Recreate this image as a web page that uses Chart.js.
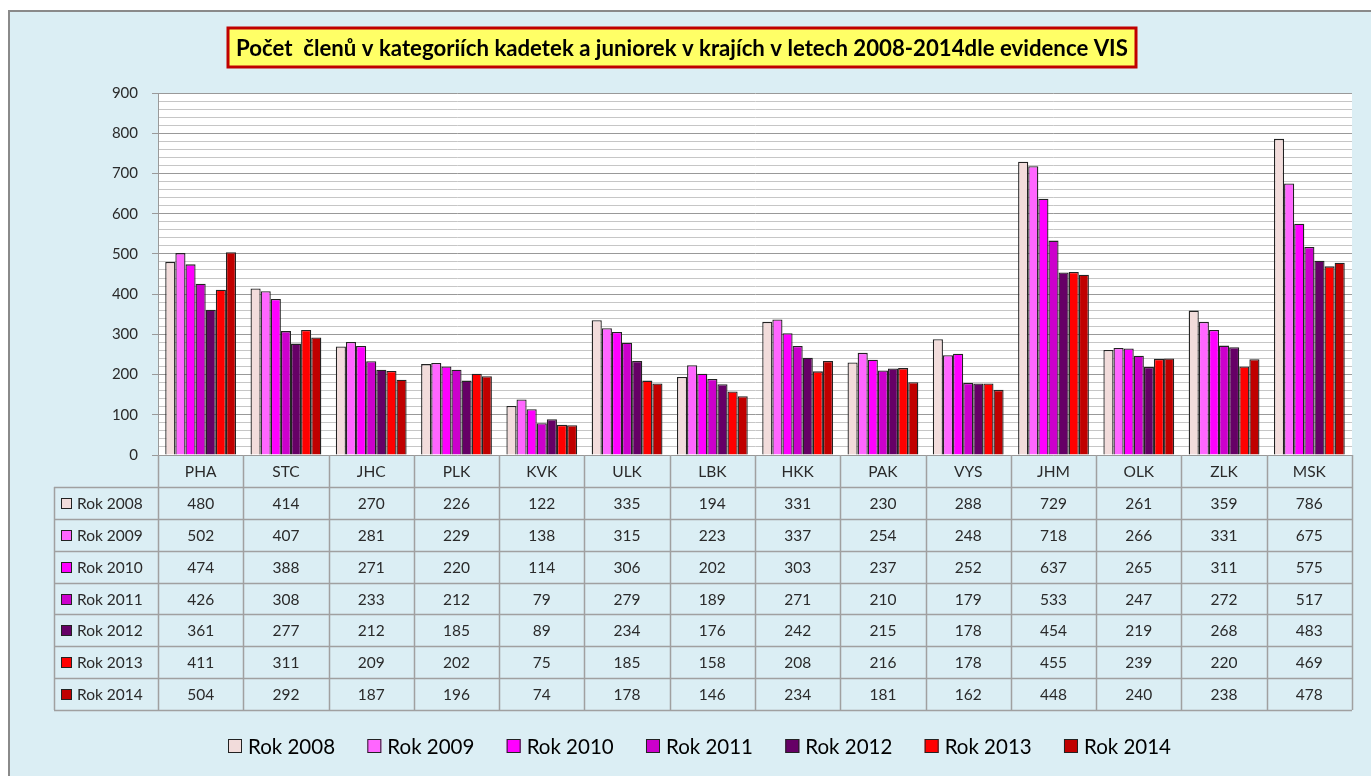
<!DOCTYPE html>
<html><head><meta charset="utf-8">
<script src="https://cdn.jsdelivr.net/npm/chart.js@4.4.0/dist/chart.umd.min.js"></script>
<style>html,body{margin:0;padding:0;background:#fff;overflow:hidden}canvas{display:block}</style>
</head><body>
<canvas id="c" width="1371" height="776"></canvas>
<script>
const titleText = 'Počet  členů v kategoriích kadetek a juniorek v krajích v letech 2008-2014dle evidence VIS';
const categories = ['PHA','STC','JHC','PLK','KVK','ULK','LBK','HKK','PAK','VYS','JHM','OLK','ZLK','MSK'];
const seriesNames = ['Rok 2008','Rok 2009','Rok 2010','Rok 2011','Rok 2012','Rok 2013','Rok 2014'];
const r2008 = [480,414,270,226,122,335,194,331,230,288,729,261,359,786];
const r2009 = [502,407,281,229,138,315,223,337,254,248,718,266,331,675];
const r2010 = [474,388,271,220,114,306,202,303,237,252,637,265,311,575];
const r2011 = [426,308,233,212,79,279,189,271,210,179,533,247,272,517];
const r2012 = [361,277,212,185,89,234,176,242,215,178,454,219,268,483];
const r2013 = [411,311,209,202,75,185,158,208,216,178,455,239,220,469];
const r2014 = [504,292,187,196,74,178,146,234,181,162,448,240,238,478];
const seriesData = [r2008,r2009,r2010,r2011,r2012,r2013,r2014];
const seriesColors = ['#f2dcdb','#ff66ff','#ff00ff','#cc00cc','#660066','#ff0000','#c00000'];
const yMin = 0, yMax = 900, yMinorStep = 20, yMajorStep = 100;

const FONT = 'Lato, "Open Sans", sans-serif';
const TEXT = '#2a2a2a';
const LINE = '#a0a0a0';

const deco = {
  id: 'deco',
  beforeDraw(chart) {
    const ctx = chart.ctx, a = chart.chartArea, W = chart.width, H = chart.height;
    ctx.save();
    ctx.fillStyle = '#ffffff'; ctx.fillRect(0, 0, W, H);
    ctx.fillStyle = '#dbeef4'; ctx.fillRect(8, 10, W - 8, H - 10);
    ctx.strokeStyle = '#8a8a8a'; ctx.lineWidth = 2;
    ctx.beginPath(); ctx.moveTo(9, H); ctx.lineTo(9, 11); ctx.lineTo(W, 11); ctx.stroke();
    ctx.fillStyle = '#ffffff'; ctx.fillRect(a.left, a.top, a.right - a.left, a.bottom - a.top);
    ctx.restore();
  },
  afterDraw(chart) {
    const ctx = chart.ctx, a = chart.chartArea;
    ctx.save();
    // Title box
    const bx = 228, by = 28, bw = 908, bh = 39;
    ctx.fillStyle = '#ffff66'; ctx.fillRect(bx, by, bw, bh);
    ctx.strokeStyle = '#c00000'; ctx.lineWidth = 3; ctx.strokeRect(bx, by, bw, bh);
    let fs = 20;
    ctx.font = 'bold ' + fs + 'px ' + FONT;
    const tw = ctx.measureText(titleText).width;
    fs = fs * 892 / tw;
    ctx.font = 'bold ' + fs.toFixed(2) + 'px ' + FONT;
    ctx.fillStyle = '#000'; ctx.textBaseline = 'middle'; ctx.textAlign = 'left';
    ctx.fillText(titleText, 236, by + bh / 2 + 1);

    // Data table
    const n = categories.length;
    const cw = (a.right - a.left) / n;
    const hTop = a.bottom, rTop = 487, rowH = (710 - 487) / seriesNames.length, tBot = 710, leftX = 54;
    ctx.strokeStyle = LINE; ctx.lineWidth = 1.5;
    ctx.beginPath();
    for (let i = 0; i <= n; i++) {
      const x = Math.round(a.left + i * cw) + 0.5;
      ctx.moveTo(x, hTop); ctx.lineTo(x, tBot);
    }
    ctx.moveTo(leftX + 0.5, rTop); ctx.lineTo(leftX + 0.5, tBot);
    for (let r = 0; r <= seriesNames.length; r++) {
      const y = Math.round(rTop + r * rowH) + 0.5;
      ctx.moveTo(leftX, y); ctx.lineTo(a.right, y);
    }
    ctx.stroke();
    ctx.fillStyle = TEXT; ctx.textAlign = 'center'; ctx.textBaseline = 'middle';
    ctx.font = '15.5px ' + FONT;
    for (let i = 0; i < n; i++) {
      const cx = a.left + (i + 0.5) * cw;
      ctx.fillText(categories[i], cx, (hTop + rTop) / 2 + 1);
      for (let r = 0; r < seriesNames.length; r++) {
        ctx.fillText(String(seriesData[r][i]), cx, rTop + (r + 0.5) * rowH + 1);
      }
    }
    for (let r = 0; r < seriesNames.length; r++) {
      const cy = rTop + (r + 0.5) * rowH;
      ctx.fillStyle = seriesColors[r];
      ctx.fillRect(61, Math.round(cy - 5), 10, 10);
      ctx.strokeStyle = '#222'; ctx.lineWidth = 1;
      ctx.strokeRect(61.5, Math.round(cy - 5) + 0.5, 10, 10);
      ctx.fillStyle = TEXT; ctx.textAlign = 'left';
      ctx.fillText(seriesNames[r], 77, cy + 1);
    }

    // Legend
    ctx.font = '20.5px ' + FONT;
    ctx.textBaseline = 'middle'; ctx.textAlign = 'left';
    const widths = seriesNames.map(s => 20 + ctx.measureText(s).width);
    const sum = widths.reduce((p, v) => p + v, 0);
    const gap = (1171 - 228 - sum) / (widths.length - 1);
    let x = 228;
    const ly = 746;
    for (let r = 0; r < seriesNames.length; r++) {
      ctx.fillStyle = seriesColors[r];
      ctx.fillRect(x, ly - 7, 14, 14);
      ctx.strokeStyle = '#222'; ctx.lineWidth = 1;
      ctx.strokeRect(x + 0.5, ly - 6.5, 13, 13);
      ctx.fillStyle = '#000';
      ctx.fillText(seriesNames[r], x + 20, ly + 1);
      x += widths[r] + gap;
    }
    ctx.restore();
  }
};

new Chart(document.getElementById('c'), {
  type: 'bar',
  data: {
    labels: categories,
    datasets: seriesNames.map((name, i) => ({
      label: name, data: seriesData[i],
      backgroundColor: seriesColors[i], borderColor: '#222222', borderWidth: 1.3,
      categoryPercentage: 0.83, barPercentage: 1
    }))
  },
  options: {
    responsive: false, animation: false, devicePixelRatio: 1,
    layout: { padding: { top: 93, bottom: 321, left: 0, right: 19 } },
    plugins: { legend: { display: false }, title: { display: false }, tooltip: { enabled: false } },
    scales: {
      x: { display: false },
      y: {
        min: yMin, max: yMax,
        afterFit(s) { s.width = 158; },
        ticks: {
          stepSize: yMinorStep, autoSkip: false, padding: 14, color: TEXT,
          font: { family: FONT, size: 15 },
          callback: v => (v % yMajorStep === 0 ? String(v) : '')
        },
        grid: {
          tickLength: 6,
          color: c => (c.tick && c.tick.value % yMajorStep === 0 ? '#999999' : '#c6c6c6'),
          tickColor: c => (c.tick && c.tick.value % yMajorStep === 0 ? '#999999' : 'rgba(0,0,0,0)')
        },
        border: { display: true, color: '#999999' }
      }
    }
  },
  plugins: [deco]
});
</script>
</body></html>
